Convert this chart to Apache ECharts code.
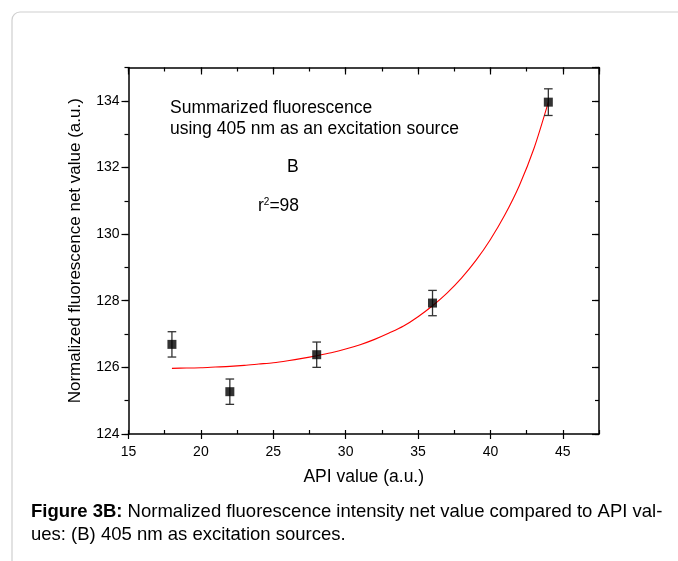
<!DOCTYPE html>
<html>
<head>
<meta charset="utf-8">
<script src="https://cdn.jsdelivr.net/npm/echarts@6/dist/echarts.min.js"></script>
<style>
html,body{margin:0;padding:0;background:#fff;}
#chart{width:678px;height:561px;}
</style>
</head>
<body>
<div id="chart"></div>
<script>
// Measured points
const apiValues = [18, 22, 28, 36, 44];
const fluorValues = [126.69, 125.27, 126.38, 127.93, 133.96];
const errValues = [0.38, 0.38, 0.38, 0.38, 0.40];
// Fit curve
const fitX = [18, 19, 20, 21, 22, 23, 24, 25, 26, 27, 28, 29, 30, 31, 32, 33, 34, 35, 36, 37, 38, 39, 40, 41, 42, 43, 44];
const fitY = [125.97, 125.98, 125.99, 126.01, 126.03, 126.06, 126.10, 126.14, 126.20, 126.27, 126.35, 126.44, 126.55, 126.68, 126.84, 127.03, 127.24, 127.52, 127.85, 128.23, 128.68, 129.21, 129.84, 130.58, 131.46, 132.56, 133.96];
// Axis ticks
const xTicks = [15, 20, 25, 30, 35, 40, 45];
const yTicks = [124, 126, 128, 130, 132, 134];

const FONT = '"Liberation Sans", Arial, sans-serif';
const chart = echarts.init(document.getElementById('chart'));

const pts = apiValues.map((x, i) => [x, fluorValues[i]]);
const errData = apiValues.map((x, i) => [x, fluorValues[i] - errValues[i], fluorValues[i] + errValues[i]]);
const fitData = fitX.map((x, i) => [x, fitY[i]]);

const axCol = '#000';
function xAx(extra) {
  return Object.assign({
    type: 'value', min: 15, max: 47.5, gridIndex: 0,
    splitLine: {show: false},
    axisLine: {show: false, onZero: false, lineStyle: {color: axCol, width: 1.5}},
    axisLabel: {show: false},
    axisTick: {show: true, lineStyle: {color: axCol, width: 1.2}}
  }, extra);
}
function yAx(extra) {
  return Object.assign({
    type: 'value', min: 124, max: 135, gridIndex: 0,
    splitLine: {show: false},
    axisLine: {show: false, onZero: false, lineStyle: {color: axCol, width: 1.5}},
    axisLabel: {show: false},
    axisTick: {show: true, lineStyle: {color: axCol, width: 1.2}}
  }, extra);
}

chart.setOption({
  animation: false,
  backgroundColor: '#fff',
  grid: {left: 128.5, right: 79, top: 67.5, bottom: 127, containLabel: false},
  xAxis: [
    xAx({position: 'bottom', interval: 5,
      axisLine: {show: true, onZero: false, lineStyle: {color: axCol, width: 1.5}},
      axisTick: {show: true, length: 5, lineStyle: {color: axCol, width: 1.2}},
      axisLabel: {show: true, color: '#000', fontFamily: FONT, fontSize: 14, margin: 11, showMaxLabel: false,
        formatter: v => (xTicks.indexOf(v) >= 0 ? String(v) : '')},
      name: 'API value (a.u.)', nameLocation: 'middle', nameGap: 34,
      nameTextStyle: {color: '#000', fontFamily: FONT, fontSize: 17.5}}),
    xAx({position: 'bottom', interval: 2.5,
      axisTick: {show: true, inside: true, length: 4, lineStyle: {color: axCol, width: 1.2}}}),
    xAx({position: 'top', interval: 5,
      axisLine: {show: true, onZero: false, lineStyle: {color: axCol, width: 1.5}},
      axisTick: {show: true, inside: true, length: 7, lineStyle: {color: axCol, width: 1.2}}}),
    xAx({position: 'top', interval: 2.5,
      axisTick: {show: true, inside: true, length: 4, lineStyle: {color: axCol, width: 1.2}}})
  ],
  yAxis: [
    yAx({position: 'left', interval: 2,
      axisLine: {show: true, onZero: false, lineStyle: {color: axCol, width: 1.5}},
      axisTick: {show: true, length: 7, lineStyle: {color: axCol, width: 1.2}},
      axisLabel: {show: true, color: '#000', fontFamily: FONT, fontSize: 14, margin: 9, showMaxLabel: false,
        formatter: v => (yTicks.indexOf(v) >= 0 ? String(v) : '')},
      name: 'Normalized fluorescence net value (a.u.)', nameLocation: 'middle', nameGap: 45,
      nameTextStyle: {color: '#000', fontFamily: FONT, fontSize: 17}}),
    yAx({position: 'left', interval: 1,
      axisTick: {show: true, length: 4, lineStyle: {color: axCol, width: 1.2}}}),
    yAx({position: 'right', interval: 2,
      axisLine: {show: true, onZero: false, lineStyle: {color: axCol, width: 1.5}},
      axisTick: {show: true, inside: true, length: 7, lineStyle: {color: axCol, width: 1.2}}}),
    yAx({position: 'right', interval: 1,
      axisTick: {show: true, inside: true, length: 4, lineStyle: {color: axCol, width: 1.2}}})
  ],
  graphic: [
    {type: 'rect', left: 9.5, top: 9.5, silent: true, z: -10,
      shape: {width: 700, height: 560, r: 8},
      style: {fill: 'none', stroke: '#cfcfcf', lineWidth: 1.2}},
    {type: 'text', left: 170, top: 97, silent: true,
      style: {text: 'Summarized fluorescence\nusing 405 nm as an excitation source', fill: '#000',
        font: '17.5px ' + FONT, lineHeight: 21.5}},
    {type: 'text', left: 287, top: 158, silent: true,
      style: {text: 'B', fill: '#000', font: '17.5px ' + FONT}},
    {type: 'text', left: 258, top: 197, silent: true,
      style: {text: 'r{sup|2}=98', fill: '#000', font: '17.5px ' + FONT,
        rich: {sup: {fontSize: 10, fontFamily: FONT, verticalAlign: 'top', padding: [0, 0, 8, 0]}}}},
    {type: 'text', left: 31, top: 500.5, silent: true,
      style: {text: '{b|Figure 3B:} Normalized fluorescence intensity net value compared to API val-\nues: (B) 405 nm as excitation sources.',
        fill: '#000', font: '18.5px ' + FONT, lineHeight: 23,
        rich: {b: {fontWeight: 'bold', fontSize: 18.5, fontFamily: FONT}}}}
  ],
  series: [
    {type: 'line', xAxisIndex: 0, yAxisIndex: 0, data: fitData, smooth: 0.3,
      showSymbol: false, symbol: 'none', lineStyle: {color: '#ff0000', width: 1.1}, z: 2},
    {type: 'custom', xAxisIndex: 0, yAxisIndex: 0, data: errData, z: 3,
      renderItem: function (params, api) {
        const x = api.value(0);
        const lo = api.coord([x, api.value(1)]);
        const hi = api.coord([x, api.value(2)]);
        const hw = 4.3;
        const st = {stroke: '#333', lineWidth: 1.3};
        return {type: 'group', children: [
          {type: 'line', shape: {x1: lo[0], y1: lo[1], x2: hi[0], y2: hi[1]}, style: st},
          {type: 'line', shape: {x1: lo[0] - hw, y1: lo[1], x2: lo[0] + hw, y2: lo[1]}, style: st},
          {type: 'line', shape: {x1: hi[0] - hw, y1: hi[1], x2: hi[0] + hw, y2: hi[1]}, style: st}
        ]};
      }},
    {type: 'scatter', xAxisIndex: 0, yAxisIndex: 0, data: pts, symbol: 'rect', symbolSize: 9,
      itemStyle: {color: '#000'}, z: 4}
  ]
});
</script>
</body>
</html>
